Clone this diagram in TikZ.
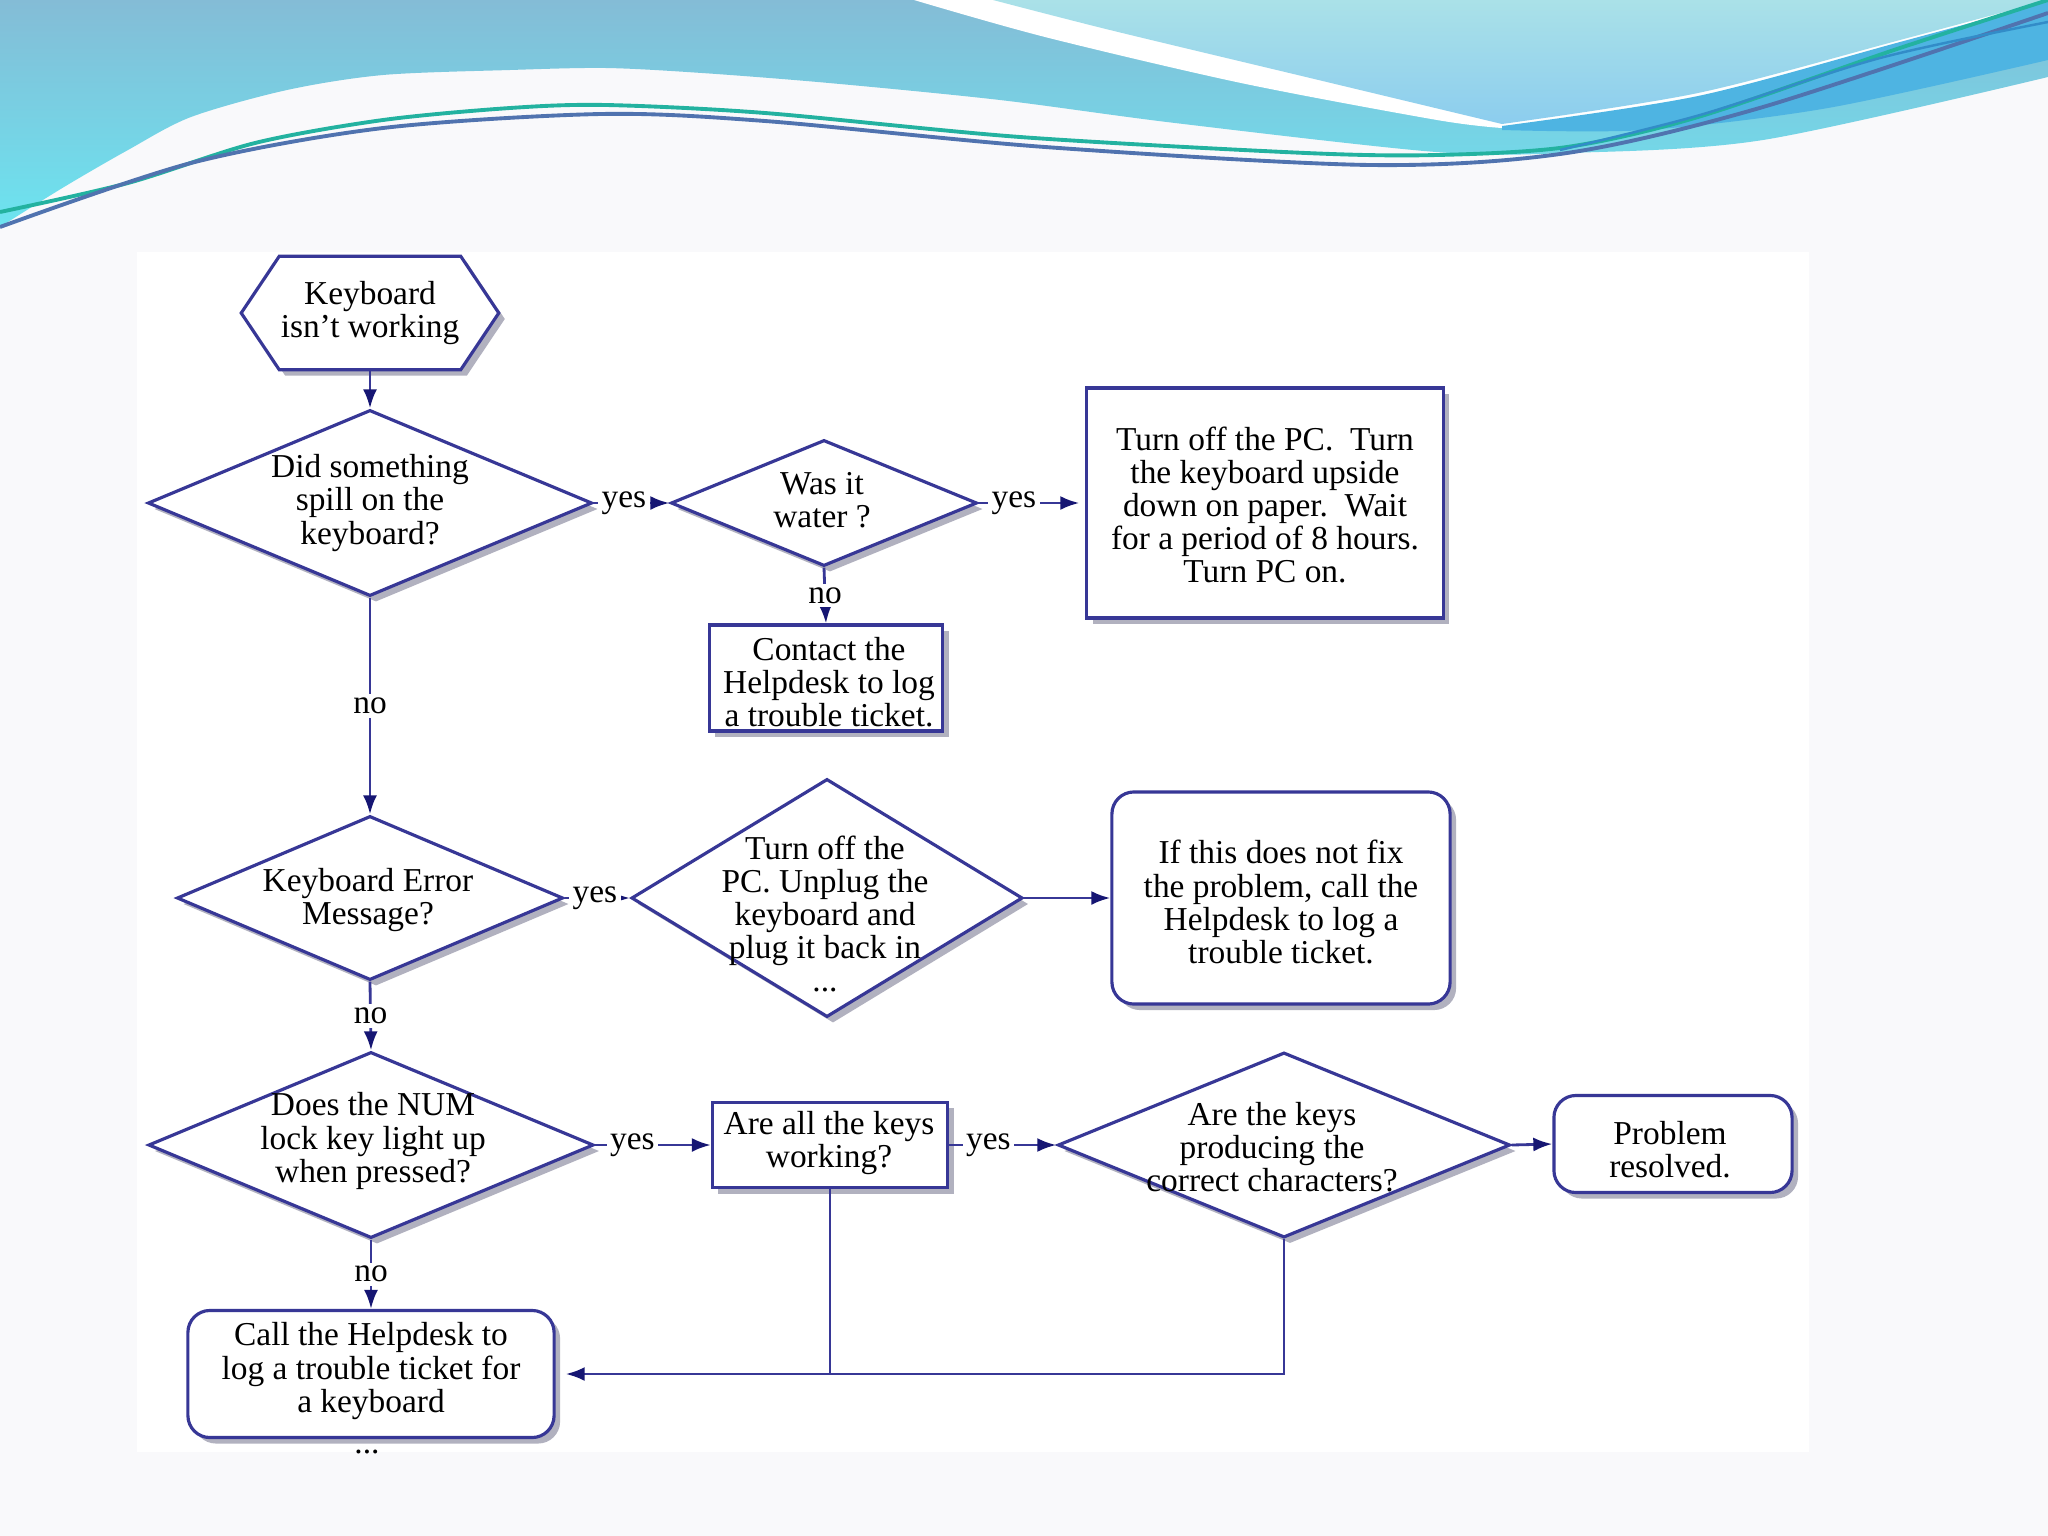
\documentclass[tikz,border=0pt]{standalone}
\usepackage{fontspec}
\setmainfont{Liberation Serif}
\usetikzlibrary{shapes.geometric,shadows,arrows.meta}
\definecolor{navy}{RGB}{55,55,150}
\definecolor{tipc}{RGB}{22,22,115}
\definecolor{shadc}{RGB}{158,158,176}
\definecolor{pagebg}{RGB}{249,249,251}
\definecolor{hdtop}{RGB}{132,188,214}
\definecolor{hdbot}{RGB}{108,228,240}
\definecolor{paletop}{RGB}{170,225,232}
\definecolor{palebot}{RGB}{140,205,238}
\definecolor{darkband}{RGB}{78,180,226}
\definecolor{lineA}{RGB}{35,178,160}
\definecolor{lineB}{RGB}{80,115,175}
\definecolor{lineC}{RGB}{50,140,200}
\pgfdeclarelayer{back}
\pgfdeclarelayer{bg}
\pgfsetlayers{back,bg,main}
\begin{document}
\begin{tikzpicture}[x=0.01cm,y=-0.01cm,
  shp/.style={draw=navy, line width=0.9pt, fill=white,
    drop shadow={shadow xshift=0.06cm, shadow yshift=-0.06cm, fill=shadc, opacity=0.8}},
  dia/.style={shp, diamond, inner sep=0pt},
  box/.style={shp, rectangle, inner sep=0pt},
  rbox/.style={box, rounded corners=0.22cm},
  txt/.style={font=\fontsize{9.5}{9.4}\selectfont, align=center, inner sep=0pt, text=black},
  lbl/.style={font=\fontsize{9.5}{9.4}\selectfont, fill=white, inner sep=1pt, text=black},
  conn/.style={draw=navy, line width=0.8pt},
  arr/.style={conn, -{Latex[length=0.19cm, width=0.14cm, color=tipc]}},
]
\useasboundingbox (0,0) rectangle (2048,1536);

\begin{pgfonlayer}{back}
\fill[pagebg] (0,0) rectangle (2048,1536);
% main header band
\shade[top color=hdtop, bottom color=hdbot] (0,0) -- (2048,0) -- plot[smooth] coordinates {(2048,77) (1763,140) (1567,153) (1436,152) (1175,123) (1000,100) (829,83) (702,73) (606,68) (510,70) (383,75) (287,90) (191,117) (128,150) (64,187) (0,227)} -- cycle;
% white stripe
\fill[white] (914,0) -- plot[smooth] coordinates {(914,0) (1045,37) (1241,83) (1437,120) (1502,128)} -- plot[smooth] coordinates {(1502,128) (1698,98) (1900,45) (2048,0)} -- cycle;
% pale region
\shade[top color=paletop, bottom color=palebot] (993,0) -- plot[smooth] coordinates {(993,0) (1110,30) (1306,77) (1502,124)} -- plot[smooth] coordinates {(1502,124) (1698,93) (1900,40) (2048,0)} -- cycle;
% dark band
\fill[darkband] plot[smooth] coordinates {(1502,126) (1698,96) (1900,42) (2048,2)} -- (2048,60) -- plot[smooth] coordinates {(2048,60) (1828,108) (1646,130) (1502,130)} -- cycle;
% lines
\draw[lineA, line width=1.1pt] plot[smooth] coordinates {(0,212) (128,183) (255,143) (383,120) (510,108) (606,105) (765,113) (1020,137) (1306,153) (1437,155) (1567,147) (1698,117) (1894,50) (2048,0)};
\draw[lineB, line width=1.1pt] plot[smooth] coordinates {(0,227) (191,163) (383,128) (601,114) (765,121) (1045,147) (1371,165) (1567,153) (1763,107) (2048,13)};
\draw[lineC, line width=0.7pt] plot[smooth] coordinates {(1560,150) (1700,115) (1880,58) (2048,22)};
% chart panel
\fill[white] (137,252) rectangle (1809,1452);
\end{pgfonlayer}

% start
\node[txt, minimum width=2.56cm, minimum height=1.12cm] (hex) at (370,313) {Keyboard\\isn't working};
\begin{pgfonlayer}{bg}
\draw[shp] (hex.west) -- ([xshift=0.38cm]hex.north west) -- ([xshift=-0.38cm]hex.north east) -- (hex.east) -- ([xshift=-0.38cm]hex.south east) -- ([xshift=0.38cm]hex.south west) -- cycle;
\end{pgfonlayer}

% shapes
\node[dia, minimum width=4.44cm, minimum height=1.86cm] (d1) at (370,503) {};
\node[dia, minimum width=3.06cm, minimum height=1.26cm] (d2) at (824,503) {};
\node[box, minimum width=3.56cm, minimum height=2.30cm] (b3) at (1265,503) {};
\node[box, minimum width=2.33cm, minimum height=1.06cm] (b4) at (826,678) {};
\node[dia, minimum width=3.86cm, minimum height=1.64cm] (d3) at (370,898) {};
\node[dia, minimum width=3.91cm, minimum height=2.38cm] (d4) at (827,898) {};
\node[rbox, minimum width=3.38cm, minimum height=2.12cm] (b5) at (1281,898) {};
\node[dia, minimum width=4.45cm, minimum height=1.86cm] (d5) at (371,1145) {};
\node[box, minimum width=2.35cm, minimum height=0.85cm] (b6) at (830,1145) {};
\node[dia, minimum width=4.52cm, minimum height=1.85cm] (d6) at (1284,1145) {};
\node[rbox, minimum width=2.38cm, minimum height=0.97cm] (b7) at (1673,1144) {};
\node[rbox, minimum width=3.66cm, minimum height=1.27cm] (b8) at (371,1374) {};

% texts
\node[txt] (d1t) at (370,503) {Did something\\spill on the\\keyboard?};
\node[txt] (d2t) at (822,500) {Was it\\water ?};
\node[txt] (b3t) at (1265,505) {Turn off the PC.\ \ Turn\\the keyboard upside\\down on paper.\ \ Wait\\for a period of 8 hours.\\Turn PC on.};
\node[txt] (b4t) at (829,682) {Contact the\\Helpdesk to log\\a trouble ticket.};
\node[txt] (d3t) at (368,900) {Keyboard Error\\Message?};
\node[txt] (d4t) at (825,914) {Turn off the\\PC. Unplug the\\keyboard and\\plug it back in\\...};
\node[txt] (b5t) at (1281,902) {If this does not fix\\the problem, call the\\Helpdesk to log a\\trouble ticket.};
\node[txt] (d5t) at (373,1141) {Does the NUM\\lock key light up\\when pressed?};
\node[txt] (b6t) at (829,1143) {Are all the keys\\working?};
\node[txt] (d6t) at (1272,1147) {Are the keys\\producing the\\correct characters?};
\node[txt] (b7t) at (1670,1150) {Problem\\resolved.};
\node[txt] (b8t) at (371,1371) {Call the Helpdesk to\\log a trouble ticket for\\a keyboard};
\node[txt] (b8dots) at (367,1452) {...};

% connectors
\draw[arr] (hex.south) -- (d1.north);
\draw[arr] (d1.east) -- node[lbl, pos=0, anchor=west, xshift=0.03cm]{yes} (d2.west);
\draw[arr, shorten >=0.06cm] (d2.east) -- node[lbl, pos=0, anchor=west, xshift=0.08cm]{yes} (b3.west);
\draw[arr] (d2.south) -- node[lbl, pos=0.5]{no} (b4.north);
\draw[arr] (d1.south) -- node[lbl, pos=0.5]{no} (d3.north);
\draw[arr] (d3.east) -- node[lbl, pos=0, anchor=west, xshift=0.03cm]{yes} (d4.west);
\draw[arr] (d4.east) -- (b5.west);
\draw[arr] (d3.south) -- node[lbl, pos=0.5]{no} (d5.north);
\draw[arr] (d5.east) -- node[lbl, pos=0, anchor=west, xshift=0.1cm]{yes} (b6.west);
\draw[arr] (b6.east) -- node[lbl, pos=0, anchor=west, xshift=0.12cm]{yes} (d6.west);
\draw[arr] (d6.east) -- (b7.west);
\draw[arr] (d5.south) -- node[lbl, pos=0.5]{no} (b8.north);
\draw[arr, shorten >=0.1cm] (d6.south) |- (b8.east);
\draw[conn] (b6.south) -- (b6.south |- b8.east);
\end{tikzpicture}
\end{document}
